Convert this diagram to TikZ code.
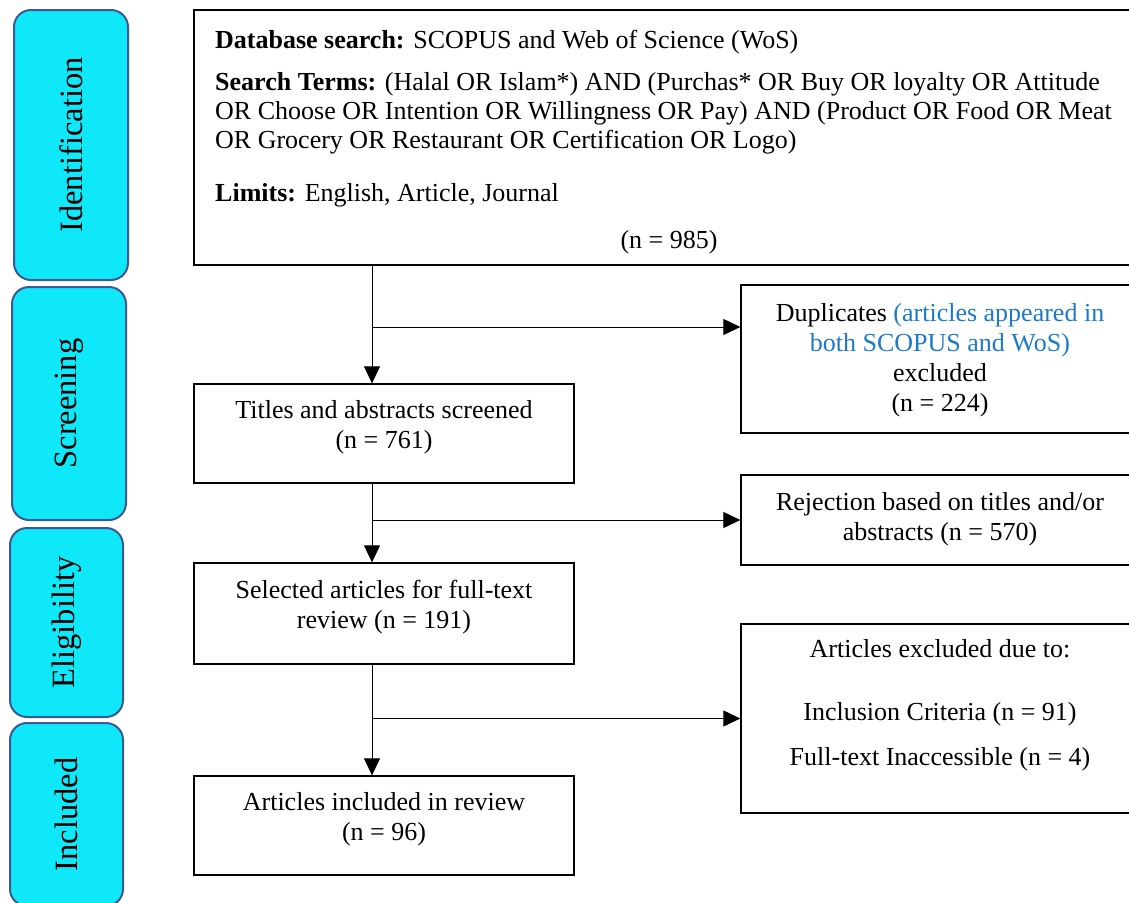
\documentclass[tikz,border=0pt]{standalone}
\usepackage{fontspec}
\setmainfont{Liberation Serif}
\usetikzlibrary{arrows.meta,positioning}

\definecolor{phasefill}{RGB}{14,232,248}
\definecolor{phaseline}{RGB}{60,88,150}
\definecolor{dupblue}{RGB}{28,122,200}

\tikzset{
  phase/.style={draw=phaseline,fill=phasefill,line width=2pt,rounded corners=17pt,rotate=90,inner sep=0pt,font=\fontsize{32.5}{38}\selectfont},
  box/.style={draw,line width=1.3pt,inner sep=0pt},
  txt/.style={align=center,inner sep=0pt,font=\fontsize{26}{30}\selectfont},
  flow/.style={line width=1pt,-{Triangle[length=17pt,width=16pt]}},
}

\begin{document}
\begin{tikzpicture}[x=1pt,y=-1pt]
\useasboundingbox (0,0) rectangle (1129,902);
\clip (0,0) rectangle (1129,902);

% stages
\node[phase,minimum width=270,minimum height=114] (ident) at (71,145) {Identification};
\node[phase,minimum width=233,minimum height=114] (screen) at (69,403.5) {Screening};
\node[phase,minimum width=189,minimum height=113] (elig) at (66.5,622.5) {Eligibility};
\node[phase,minimum width=183,minimum height=113] (incphase) at (66.5,814.5) {Included};

% search box
\node[box,minimum width=946,minimum height=255] (db) at (667,137.5) {};
\node[txt,anchor=base west] (dbsrc) at (215,48) {\textbf{Database search:} SCOPUS and Web of Science (WoS)};
\node[txt,anchor=base west] (terms1) at (215,90) {\textbf{Search Terms:} (Halal OR Islam*) AND (Purchas* OR Buy OR loyalty OR Attitude};
\node[txt,anchor=base west] (terms2) at (215,119) {OR Choose OR Intention OR Willingness OR Pay) AND (Product OR Food OR Meat};
\node[txt,anchor=base west] (terms3) at (215,148) {OR Grocery OR Restaurant OR Certification OR Logo)};
\node[txt,anchor=base west] (limits) at (215,201) {\textbf{Limits:} English, Article, Journal};
\node[txt,anchor=base] (dbn) at (669,248) {(n = 985)};

% main column
\node[box,minimum width=380,minimum height=99] (titles) at (384,433.5) {};
\node[txt] (titles-t) at (384,427) {Titles and abstracts screened\\(n = 761)};
\node[box,minimum width=380,minimum height=101] (sel) at (384,613.5) {};
\node[txt] (sel-t) at (384,607) {Selected articles for full-text\\review (n = 191)};
\node[box,minimum width=380,minimum height=99] (incl) at (384,825.5) {};
\node[txt] (incl-t) at (384,819) {Articles included in review\\(n = 96)};

% exclusions
\node[box,minimum width=398,minimum height=148] (dup) at (940,359) {};
\node[txt] (dup-t) at (940,360) {Duplicates \textcolor{dupblue}{(articles appeared in}\\\textcolor{dupblue}{both SCOPUS and WoS)}\\excluded\\(n = 224)};
\node[box,minimum width=398,minimum height=90] (rej) at (940,520) {};
\node[txt] (rej-t) at (940,519) {Rejection based on titles and/or\\abstracts (n = 570)};
\node[box,minimum width=398,minimum height=189] (excl) at (940,718.5) {};
\node[txt] (excl-t) at (940,705) {Articles excluded due to:\\[33pt]Inclusion Criteria (n = 91)\\[15pt]Full-text Inaccessible (n = 4)};

% connectors
\coordinate (spine) at (372,0);
\coordinate (b1) at (372,327);
\draw[flow] (db.south -| spine)--(titles.north -| spine);
\draw[flow] (b1)--(b1 -| dup.west);
\draw[flow] (titles.south -| spine)--(sel.north -| spine);
\draw[flow] (spine |- rej.west)--(rej.west);
\draw[flow] (sel.south -| spine)--(incl.north -| spine);
\draw[flow] (spine |- excl.west)--(excl.west);
\end{tikzpicture}
\end{document}
